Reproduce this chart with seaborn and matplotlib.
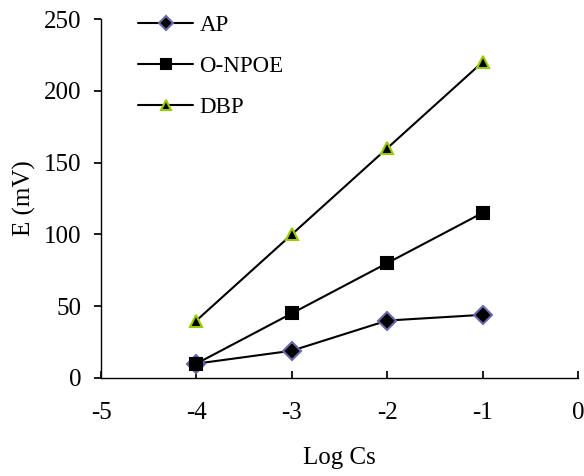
import matplotlib
matplotlib.use("Agg")
import matplotlib.pyplot as plt
import seaborn as sns

log_cs = [-4, -3, -2, -1]
ap = [10, 19, 40, 44]
o_npoe = [10, 45, 80, 115]
dbp = [40, 100, 160, 220]

series = [
    ("AP", ap, "D", "#6a6aa8"),
    ("O-NPOE", o_npoe, "s", "black"),
    ("DBP", dbp, "^", "#99cc00"),
]

sns.set_theme(style="ticks")
plt.rcParams["font.family"] = ["Liberation Serif", "DejaVu Serif"]
plt.rcParams["axes.unicode_minus"] = False
plt.rcParams["text.color"] = "black"
plt.rcParams["axes.labelcolor"] = "black"
plt.rcParams["xtick.color"] = "black"
plt.rcParams["ytick.color"] = "black"

fig = plt.figure(figsize=(5.84, 4.76), dpi=100)
ax = fig.add_axes([101 / 584, 98 / 476, 477 / 584, 359 / 476])

for name, values, marker, edge in series:
    sns.lineplot(
        x=log_cs, y=values, ax=ax, color="black", linewidth=1.5,
        marker=marker, markersize=9, markerfacecolor="black",
        markeredgecolor=edge, markeredgewidth=1.5, label=name,
    )

ax.set_xlim(-5, 0)
ax.set_ylim(0, 250)
ax.set_xticks([-5, -4, -3, -2, -1, 0])
ax.set_yticks([0, 50, 100, 150, 200, 250])
ax.tick_params(axis="x", direction="in", length=5, labelsize=18, pad=17)
ax.tick_params(axis="y", direction="out", length=5, labelsize=18, pad=9)
for side in ["top", "right"]:
    ax.spines[side].set_visible(False)
for side in ["left", "bottom"]:
    ax.spines[side].set_color("black")
    ax.spines[side].set_linewidth(1)

ax.set_xlabel("Log Cs", fontsize=18, labelpad=17)
ax.set_ylabel("E (mV)", fontsize=18, labelpad=6)

ax.legend(
    loc="upper left", bbox_to_anchor=(138 / 584, 1 - 15 / 476),
    bbox_transform=fig.transFigure, frameon=False, borderpad=0,
    borderaxespad=0, fontsize=16.5, handlelength=2.4, handletextpad=0.28,
    labelspacing=0.88, markerscale=0.75,
)

fig.savefig("out.png", dpi=100)
